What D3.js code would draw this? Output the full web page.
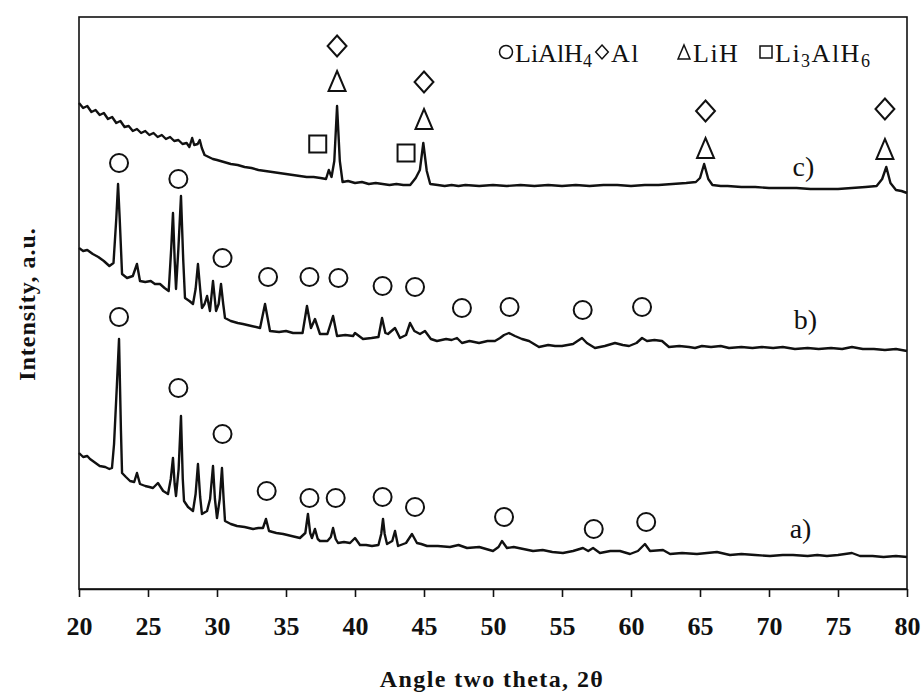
<!DOCTYPE html>
<html>
<head>
<meta charset="utf-8">
<script src="https://cdn.jsdelivr.net/npm/d3@7"></script>
<style>
body{margin:0;background:#fff;}
text{font-family:"Liberation Serif","Times New Roman",serif;fill:#111;}
</style>
</head>
<body>
<div id="container"></div>
<script>
// XRD patterns, [2theta, intensity a.u.]
var patternA = [[20.0,136],[20.3,132],[20.6,133],[20.8,130],[21.1,127],[21.5,123],[21.9,122],[22.2,120],[22.39,121],[22.54,145],[22.75,205],[22.9,250],[23.04,158],[23.12,116],[23.4,112],[23.7,108],[24.0,107],[24.2,116],[24.42,105],[24.8,103],[25.1,102],[25.36,101],[25.72,106],[26.1,98],[26.45,95],[26.65,110],[26.81,131],[26.93,105],[27.03,93],[27.22,120],[27.39,173],[27.52,110],[27.61,88],[27.9,82],[28.26,78],[28.45,95],[28.62,125],[28.78,92],[28.91,75],[29.28,78],[29.5,90],[29.71,123],[29.85,90],[30.0,71],[30.2,90],[30.36,121],[30.48,90],[30.58,68],[31.0,65],[31.45,63],[32.0,62],[32.61,60],[33.0,61],[33.33,61],[33.55,70],[33.77,58],[34.3,56],[34.8,55],[35.4,53],[36.01,51],[36.4,56],[36.59,75],[36.75,56],[36.88,51],[37.1,60],[37.3,50],[37.46,48],[38.0,48],[38.25,52],[38.41,61],[38.6,50],[38.77,46],[39.2,47],[39.64,46],[40.0,51],[40.36,44],[40.8,44],[41.23,43],[41.7,44],[41.9,55],[42.03,70],[42.15,55],[42.32,45],[42.7,48],[42.9,58],[43.12,43],[43.7,46],[44.13,55],[44.49,46],[44.8,45],[45.22,43],[46.0,43],[46.88,42],[47.5,44],[48.12,41],[49.0,42],[50.0,38],[50.4,42],[50.65,48],[51.01,41],[51.5,42],[52.2,40],[52.9,38],[53.6,39],[54.3,37],[55.07,36],[55.8,38],[56.52,41],[56.9,38],[57.25,41],[57.75,36],[58.5,38],[59.2,38],[59.93,35],[60.5,38],[61.01,45],[61.38,38],[62.32,39],[62.83,35],[63.7,36],[64.78,35],[65.5,36],[66.23,37],[67.17,34],[68.0,35],[69.0,34],[70.07,33],[71.0,34],[71.74,34],[72.8,33],[73.5,34],[74.2,33],[75.0,34],[76.01,36],[76.59,33],[77.5,33],[78.3,32],[79.2,33],[80.0,32]]

var patternB = [[20.0,341],[20.3,338],[20.6,339],[21.0,335],[21.4,332],[21.8,328],[22.2,323],[22.5,326],[22.7,370],[22.83,405],[22.95,370],[23.12,315],[23.48,311],[23.9,313],[24.2,325],[24.42,308],[24.8,307],[25.2,308],[25.5,305],[25.87,305],[26.2,301],[26.5,298],[26.68,340],[26.81,376],[26.93,330],[27.03,300],[27.2,340],[27.39,393],[27.55,330],[27.68,291],[28.0,288],[28.26,285],[28.45,300],[28.62,325],[28.78,300],[28.91,281],[29.1,285],[29.28,293],[29.49,278],[29.71,308],[29.93,278],[30.12,285],[30.29,305],[30.45,285],[30.58,271],[31.0,268],[31.5,266],[31.88,265],[32.5,263],[33.12,261],[33.48,285],[33.84,258],[34.5,257],[35.0,258],[35.51,256],[36.2,256],[36.52,283],[36.81,261],[37.1,270],[37.46,255],[38.0,255],[38.41,273],[38.70,253],[39.3,254],[39.86,253],[40.0,256],[40.58,250],[41.2,251],[41.7,252],[41.96,271],[42.2,256],[42.39,255],[42.9,261],[43.26,251],[43.7,254],[43.99,266],[44.3,258],[44.71,255],[45.07,258],[45.5,250],[45.94,248],[46.6,250],[47.0,249],[47.39,251],[47.75,246],[48.3,248],[48.99,246],[49.6,248],[50.14,248],[50.51,251],[50.8,254],[51.16,256],[51.59,253],[52.1,250],[52.61,248],[53.33,242],[54.0,244],[54.5,243],[55.0,243],[55.8,245],[56.45,251],[56.8,246],[57.39,241],[58.1,243],[58.84,246],[59.4,244],[59.86,243],[60.4,246],[60.8,251],[61.16,248],[61.7,249],[62.25,248],[62.75,242],[63.5,243],[64.2,242],[64.64,241],[65.14,243],[65.8,242],[66.5,243],[67.1,241],[68.0,242],[68.8,241],[69.49,242],[70.3,241],[71.0,242],[71.88,240],[72.8,241],[73.6,240],[74.5,241],[75.3,240],[76.01,242],[76.8,240],[77.6,240],[78.4,239],[79.2,240],[80.0,238]]

var patternC = [[20.0,486],[20.3,481],[20.6,483],[20.9,477],[21.2,479],[21.5,474],[21.8,476],[22.1,470],[22.4,472],[22.7,466],[23.0,468],[23.3,462],[23.6,463],[23.9,458],[24.2,460],[24.5,456],[24.8,458],[25.1,454],[25.4,456],[25.7,452],[26.0,454],[26.3,450],[26.6,452],[26.9,448],[27.2,449],[27.5,445],[27.8,446],[28.0,442],[28.2,451],[28.35,444],[28.6,445],[28.75,449],[28.9,441],[29.1,434],[29.4,432],[29.7,430],[30.0,429],[30.5,427],[31.0,425],[31.5,424],[32.0,422],[32.5,421],[33.0,419],[33.5,418],[34.0,417],[34.5,416],[35.0,415],[35.5,414],[36.0,413],[36.5,412],[37.0,412],[37.5,411],[37.9,410],[38.1,419],[38.3,412],[38.5,428],[38.7,483],[38.9,428],[39.1,407],[39.5,408],[40.0,406],[40.5,407],[41.0,405],[41.5,406],[42.0,405],[42.5,404],[43.0,405],[43.5,404],[44.0,404],[44.4,411],[44.7,419],[44.95,446],[45.2,418],[45.45,405],[46.0,404],[46.5,403],[47.0,404],[47.5,403],[48.0,404],[49.0,403],[50.0,404],[51.0,403],[52.0,404],[53.0,403],[54.0,404],[55.0,403],[56.0,404],[57.0,403],[58.0,404],[59.0,404],[60.0,403],[61.0,404],[62.0,404],[63.0,405],[64.0,406],[64.7,407],[65.0,411],[65.3,425],[65.6,410],[65.9,404],[66.5,403],[67.0,403],[68.0,402],[69.0,402],[70.0,401],[71.0,401],[72.0,401],[73.0,400],[74.0,400],[75.0,400],[76.0,401],[77.0,402],[77.8,403],[78.2,410],[78.5,422],[78.8,406],[79.2,399],[79.6,398],[80.0,396]]

// phase markers [2theta, height a.u.]
var circleMarks = [[22.9,426],[27.2,410],[30.4,331],[33.7,312],[36.7,312],[38.8,311],[42.0,303],[44.35,302],[47.75,281],[51.2,282],[56.5,279],[60.8,282],
                   [22.9,272],[27.2,201],[30.4,155],[33.6,98],[36.7,91],[38.6,91],[42.0,92],[44.35,82],[50.8,72],[57.3,60],[61.1,67]]
var diamondMarks = [[38.7,543],[45.0,507],[65.4,478],[78.4,480]]
var triangleMarks = [[38.7,508],[45.0,470],[65.4,441],[78.4,440]]
var squareMarks = [[37.3,445],[43.7,436]]

var curveLabels = [["a)",71.5,51],["b)",71.8,260],["c)",71.7,413]]
var xTicks = [20,25,30,35,40,45,50,55,60,65,70,75,80]

var W = 924, H = 693
var mLeft = 79, mRight = 907, mTop = 17, mBottom = 589

var svg = d3.select("#container").append("svg").attr("width",W).attr("height",H)

var xScale = d3.scaleLinear().domain([20,80]).range([mLeft,mRight])
var yScale = d3.scaleLinear().domain([0,572]).range([mBottom,mTop])

// frame
svg.append("rect").attr("x",mLeft).attr("y",mTop).attr("width",mRight-mLeft).attr("height",mBottom-mTop)
    .attr("fill","none").attr("stroke","#111").attr("stroke-width",1.6)

var xAxis = svg.append("g").attr("transform","translate(0,"+mBottom+")")
    .call(d3.axisBottom(xScale).tickValues(xTicks).tickSize(8).tickSizeOuter(0).tickPadding(20))
xAxis.select(".domain").attr("stroke","#111").attr("stroke-width",1.6)
xAxis.selectAll(".tick line").attr("stroke","#111").attr("stroke-width",1.6)
xAxis.selectAll(".tick text").style("font-family","'Liberation Serif',serif").style("font-size","26px")
    .style("font-weight","bold").attr("fill","#111")

svg.append("text").attr("x",492).attr("y",687).attr("text-anchor","middle")
    .style("font-size","24px").style("font-weight","bold").style("letter-spacing","1.4px")
    .text("Angle two theta, 2θ")

svg.append("text").attr("transform","translate(35,304) rotate(-90)").attr("text-anchor","middle")
    .style("font-size","24px").style("font-weight","bold").style("letter-spacing","1px")
    .text("Intensity, a.u.")

var line = d3.line().x(function(d){return xScale(d[0])}).y(function(d){return yScale(d[1])})
;[patternA,patternB,patternC].forEach(function(p){
    svg.append("path").attr("d",line(p)).attr("fill","none").attr("stroke","#111")
        .attr("stroke-width",2.4).attr("stroke-linejoin","round")
})

function shape(type,s){
    if(type=="diamond") return "M0,"+(-s)+"L"+(s*0.9)+",0L0,"+s+"L"+(-s*0.9)+",0Z"
    if(type=="triangle") return "M0,"+(-s)+"L"+(s*0.85)+","+s+"L"+(-s*0.85)+","+s+"Z"
    return "M"+(-s)+","+(-s)+"H"+s+"V"+s+"H"+(-s)+"Z"
}

var marks = svg.append("g").attr("fill","none").attr("stroke","#111").attr("stroke-width",2)
circleMarks.forEach(function(d){
    marks.append("circle").attr("cx",xScale(d[0])).attr("cy",yScale(d[1])).attr("r",9)
})
diamondMarks.forEach(function(d){
    marks.append("path").attr("transform","translate("+xScale(d[0])+","+yScale(d[1])+")").attr("d",shape("diamond",10.5))
})
triangleMarks.forEach(function(d){
    marks.append("path").attr("transform","translate("+xScale(d[0])+","+yScale(d[1])+")").attr("d",shape("triangle",10))
})
squareMarks.forEach(function(d){
    marks.append("path").attr("transform","translate("+xScale(d[0])+","+yScale(d[1])+")").attr("d",shape("square",8.5))
})

curveLabels.forEach(function(d){
    svg.append("text").attr("x",xScale(d[1])).attr("y",yScale(d[2])).style("font-size","28px").text(d[0])
})

// legend: shape, label parts, symbol x, letter spacing
var legend = [["circle",["LiAlH","4"],506,0],["diamond",["Al"],602,1.5],["triangle",["LiH"],684,1.5],["square",["Li","3","AlH","6"],766,1.5]]
var lg = svg.append("g")
legend.forEach(function(d){
    var cy = 52
    if(d[0]=="circle") lg.append("circle").attr("cx",d[2]).attr("cy",cy).attr("r",6.5).attr("fill","none").attr("stroke","#111").attr("stroke-width",1.5)
    else lg.append("path").attr("transform","translate("+d[2]+","+cy+")").attr("d",shape(d[0],d[0]=="square"?6:7))
        .attr("fill","none").attr("stroke","#111").attr("stroke-width",1.5)
    var t = lg.append("text").attr("x",d[2]+9).attr("y",62).style("font-size","26px").style("letter-spacing",d[3]+"px")
    d[1].forEach(function(s,i){
        var sub = i%2==1
        t.append("tspan").attr("dy",sub?5:(i>0?-5:0)).style("font-size",sub?"18px":"26px").text(s)
    })
})
</script>
</body>
</html>
